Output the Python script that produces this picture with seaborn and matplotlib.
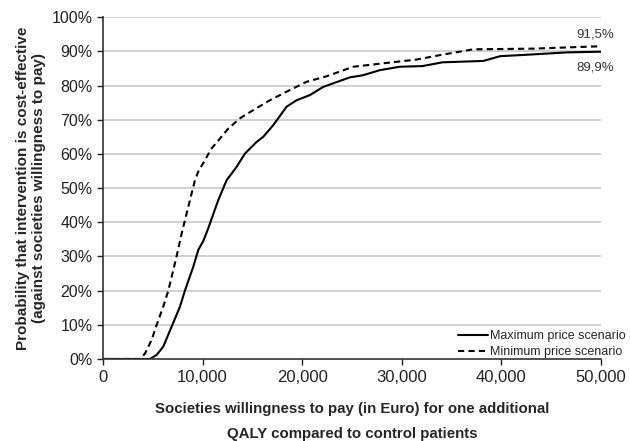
import seaborn as sns
import matplotlib.pyplot as plt
import pandas as pd
from matplotlib.ticker import FuncFormatter

# willingness to pay (Euro) and probability cost-effective (%)
max_wtp = [0, 4720, 5390, 6050, 6900, 7730, 8230, 9070, 9570, 10070, 10570, 11580, 12420,
           13420, 14260, 15430, 16100, 17100, 18440, 19450, 20780, 22120, 24800, 26100,
           27800, 29800, 32100, 34100, 38200, 39900, 41900, 46600, 50000]
max_prob = [0, 0, 1.2, 3.6, 9.5, 15.3, 20, 27, 31.9, 34.5, 38.2, 46.5, 52.3,
            56.2, 60.1, 63.5, 65, 68.4, 73.8, 75.7, 77.2, 79.6, 82.4, 83,
            84.5, 85.5, 85.7, 86.8, 87.2, 88.6, 88.9, 89.7, 89.9]

min_wtp = [0, 3710, 4220, 4890, 5390, 6050, 6560, 7060, 7390, 7900, 8230, 8900, 9240, 9570,
           10240, 10910, 11750, 12580, 13750, 15090, 16770, 18440, 20450, 22450, 25130,
           28140, 31490, 33840, 37180, 43200, 50000]
min_prob = [0, 0, 1.6, 5.6, 10, 15.3, 20, 26, 30, 36.7, 40.6, 48.4, 52.3, 54.8,
            58.2, 61.6, 64.5, 67.4, 70.4, 72.8, 75.7, 78.2, 81.1, 82.7, 85.5,
            86.5, 87.6, 88.9, 90.6, 90.8, 91.5]

df_max = pd.DataFrame({"wtp": max_wtp, "prob": max_prob})
df_min = pd.DataFrame({"wtp": min_wtp, "prob": min_prob})

sns.set_style("white")
plt.rcParams["font.family"] = ["Liberation Sans", "DejaVu Sans"]

fig = plt.figure(figsize=(6.3, 4.41), dpi=100)
ax = fig.add_axes([0.1635, 0.186, 0.79, 0.775])

for y in range(10, 101, 10):
    ax.axhline(y, color="#c8c8c8", lw=1.2, zorder=0)

sns.lineplot(data=df_max, x="wtp", y="prob", ax=ax, color="black", lw=1.5,
             label="Maximum price scenario")
sns.lineplot(data=df_min, x="wtp", y="prob", ax=ax, color="black", lw=1.5,
             linestyle=(0, (3, 2)), label="Minimum price scenario")

ax.set_xlim(0, 50000)
ax.set_ylim(0, 100)
ax.set_xticks(range(0, 50001, 10000))
ax.set_yticks(range(0, 101, 10))
ax.xaxis.set_major_formatter(FuncFormatter(lambda v, p: f"{int(v):,}"))
ax.yaxis.set_major_formatter(FuncFormatter(lambda v, p: f"{int(v)}%"))
ax.tick_params(axis="y", labelsize=11.5, colors="#222222", length=4, width=1,
               direction="out", left=True)
ax.tick_params(axis="x", labelsize=12, colors="#222222", length=4, width=1,
               direction="out", bottom=True, pad=4)

for s in ["top", "right"]:
    ax.spines[s].set_visible(False)
for s in ["left", "bottom"]:
    ax.spines[s].set_color("#333333")
    ax.spines[s].set_linewidth(1.2)

ax.set_xlabel("Societies willingness to pay (in Euro) for one additional\nQALY compared to control patients",
              fontsize=10.8, fontweight="bold", linespacing=2.05, labelpad=12)
ax.set_ylabel("Probability that intervention is cost-effective\n(against societies willingness to pay)",
              fontsize=11, fontweight="bold", labelpad=4)

ax.text(51300, 95, "91,5%", fontsize=9.5, color="#333333", ha="right", va="center")
ax.text(51300, 85.4, "89,9%", fontsize=9.5, color="#333333", ha="right", va="center")

leg = ax.legend(loc="lower right", bbox_to_anchor=(1.072, -0.03), frameon=False, fontsize=9,
                handlelength=2.4, handletextpad=0.15, labelspacing=0.3)

plt.savefig("out.png", dpi=100)
